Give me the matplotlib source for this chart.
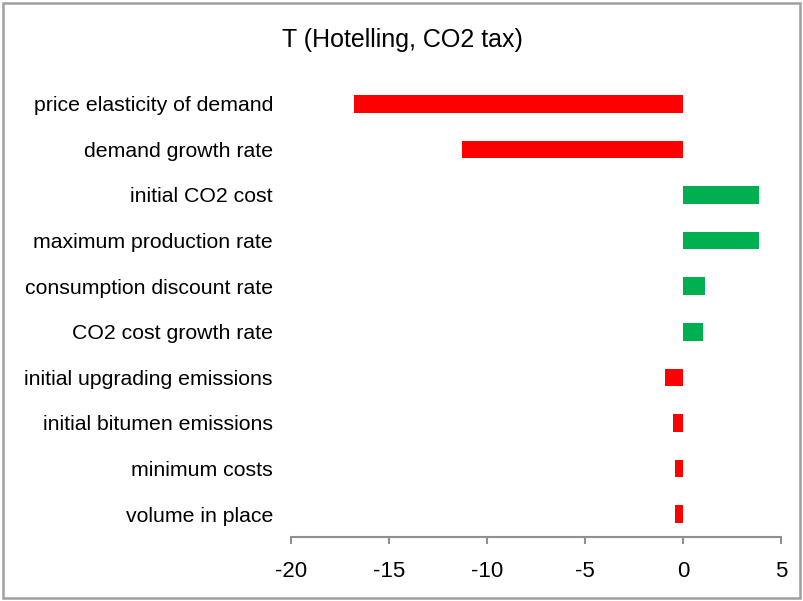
import matplotlib.pyplot as plt
from matplotlib.patches import Rectangle

plt.rcParams['font.family'] = ['Liberation Sans', 'DejaVu Sans']
plt.rcParams['axes.unicode_minus'] = False

labels = ['price elasticity of demand', 'demand growth rate', 'initial CO2 cost',
          'maximum production rate', 'consumption discount rate', 'CO2 cost growth rate',
          'initial upgrading emissions', 'initial bitumen emissions', 'minimum costs',
          'volume in place']
values = [-16.8, -11.3, 3.9, 3.9, 1.1, 1.0, -0.93, -0.53, -0.43, -0.43]

colors = ['#00B050' if v > 0 else '#FF0000' for v in values]

fig = plt.figure(figsize=(8.04, 6.01), dpi=100)
ax = fig.add_axes([291 / 804, 1 - 537 / 601, 490 / 804, (537 - 81) / 601])

y = list(range(len(labels)))
ax.barh(y, values, height=0.39, color=colors)
ax.set_ylim(len(labels) - 0.5, -0.5)
ax.set_xlim(-20, 5)
ax.set_xticks([-20, -15, -10, -5, 0, 5])
ax.set_yticks(y, labels)

for s in ['top', 'right', 'left']:
    ax.spines[s].set_visible(False)
ax.spines['bottom'].set_color('#909090')
ax.spines['bottom'].set_linewidth(1.5)
ax.tick_params(axis='x', colors='#909090', length=5, width=1.5, labelcolor='black',
               labelsize=16, pad=12.5)
ax.tick_params(axis='y', length=0, labelsize=15.3, pad=13)

fig.text(402 / 804, 1 - 40 / 601, 'T (Hotelling, CO2 tax)', ha='center', va='center',
         fontsize=18)

fig.patches.append(Rectangle((3 / 804, 3 / 601), 797 / 804, 595 / 601, transform=fig.transFigure,
                             fill=False, edgecolor='#a0a0a0', linewidth=1.8))

fig.savefig('out.png', dpi=100)
